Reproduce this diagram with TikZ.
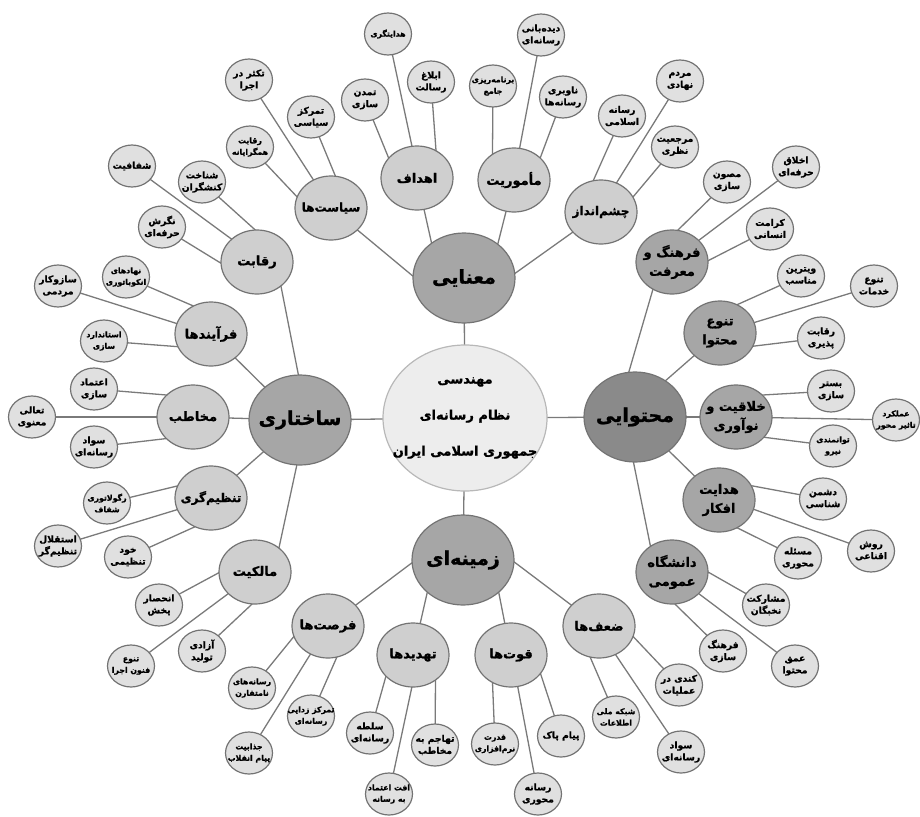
\documentclass[tikz,border=0pt]{standalone}
\usepackage{fontspec}
\usetikzlibrary{shapes.geometric,backgrounds}
\newfontfamily\arabicfont[Script=Arabic,BoldFeatures={FakeBold=1.2}]{DejaVu Sans}
\TeXXeTstate=1
\definecolor{bordc}{gray}{0.45}
\definecolor{linec}{gray}{0.48}
\definecolor{leafc}{gray}{0.88}
\definecolor{subc}{gray}{0.81}
\definecolor{subdc}{gray}{0.65}
\definecolor{mainc}{gray}{0.65}
\definecolor{maindc}{gray}{0.54}
\definecolor{cenc}{gray}{0.93}
\definecolor{cenb}{gray}{0.72}
\tikzset{
  lt/.style={font=\arabicfont\bfseries\fontsize{9.2}{12}\selectfont, align=center, inner sep=0pt},
  ltsm/.style={font=\arabicfont\bfseries\fontsize{7.8}{11.5}\selectfont, align=center, inner sep=0pt},
  stx/.style={font=\arabicfont\bfseries\fontsize{13}{19}\selectfont, align=center, inner sep=0pt},
  stxs/.style={font=\arabicfont\bfseries\fontsize{12}{19}\selectfont, align=center, inner sep=0pt},
  mtx/.style={font=\arabicfont\bfseries\fontsize{19}{22}\selectfont, align=center, inner sep=0pt},
  ctx/.style={font=\arabicfont\bfseries\fontsize{13}{36}\selectfont, align=center, inner sep=0pt},
  bub/.style={ellipse, draw=bordc, line width=1.2pt, inner sep=0pt, outer sep=0pt},
  leafn/.style={bub, fill=leafc, minimum width=47pt, minimum height=42pt, label={[lt]center:{#1}}},
  leafs/.style={bub, fill=leafc, minimum width=47pt, minimum height=42pt, label={[ltsm]center:{#1}}},
  subn/.style={bub, fill=subc, minimum width=72pt, minimum height=64pt, label={[stx]center:{#1}}},
  subs/.style={bub, fill=subc, minimum width=72pt, minimum height=64pt, label={[stxs]center:{#1}}},
  subd/.style={bub, fill=subdc, minimum width=72pt, minimum height=64pt, label={[stx]center:{#1}}},
  mainn/.style={bub, fill=mainc, minimum width=102pt, minimum height=90pt, label={[mtx]center:{#1}}},
  maind/.style={bub, fill=maindc, minimum width=102pt, minimum height=90pt, label={[mtx]center:{#1}}},
  cenn/.style={bub, fill=cenc, draw=cenb, minimum width=164pt, minimum height=146pt, label={[ctx]center:{#1}}},
  conn/.style={draw=linec, line width=1.3pt}
}
\begin{document}
\begin{tikzpicture}[x=1pt,y=-1pt]
\useasboundingbox (0,0) rectangle (920,816);
% centre and main
\node[cenn={\beginR مهندسی\endR\\\beginR نظام رسانه‌ای\endR\\\beginR جمهوری اسلامی ایران\endR}] (cen) at (465,418) {};
\node[mainn={\beginR معنایی\endR}] (mana) at (464,278) {};
\node[maind={\beginR محتوایی\endR}] (mohtava) at (635,417) {};
\node[mainn={\beginR زمینه‌ای\endR}] (zamine) at (463,560) {};
\node[mainn={\beginR ساختاری\endR}] (sakht) at (300,420) {};
% meaning
\node[subs={\beginR سیاست‌ها\endR}] (siasat) at (331,208) {};
\node[subn={\beginR اهداف\endR}] (ahdaf) at (417,178) {};
\node[subn={\beginR مأموریت\endR}] (mamuriat) at (514,180) {};
\node[subs={\beginR چشم‌انداز\endR}] (cheshm) at (601,212) {};
\node[leafs={\beginR رقابت\endR\\\beginR همگرایانه\endR}] (hamgara) at (250,147) {};
\node[leafn={\beginR تمرکز\endR\\\beginR سیاسی\endR}] (tamarkoz) at (311,117) {};
\node[leafn={\beginR تکثر در\endR\\\beginR اجرا\endR}] (takassor) at (249,80) {};
\node[leafn={\beginR تمدن\endR\\\beginR سازی\endR}] (tamadon) at (365,100) {};
\node[leafs={\beginR هدایتگری\endR}] (hedayatgari) at (388,34) {};
\node[leafn={\beginR ابلاغ\endR\\\beginR رسالت\endR}] (eblagh) at (431,82) {};
\node[leafs={\beginR برنامه‌ریزی\endR\\\beginR جامع\endR}] (barname) at (493,86) {};
\node[leafn={\beginR دیده‌بانی\endR\\\beginR رسانه‌ای\endR}] (didebani) at (541,35) {};
\node[leafn={\beginR ناوبری\endR\\\beginR رسانه‌ها\endR}] (navbari) at (563,97) {};
\node[leafn={\beginR رسانه\endR\\\beginR اسلامی\endR}] (eslami) at (622,116) {};
\node[leafn={\beginR مردم\endR\\\beginR نهادی\endR}] (mardom) at (680,81) {};
\node[leafn={\beginR مرجعیت\endR\\\beginR نظری\endR}] (marjaeiat) at (675,147) {};
% content
\node[subd={\beginR فرهنگ و\endR\\\beginR معرفت\endR}] (farhang) at (672,262) {};
\node[subd={\beginR تنوع\endR\\\beginR محتوا\endR}] (tanavo) at (720,333) {};
\node[subd={\beginR خلاقیت و\endR\\\beginR نوآوری\endR}] (khalaqiat) at (736,417) {};
\node[subd={\beginR هدایت\endR\\\beginR افکار\endR}] (hedayat) at (719,500) {};
\node[subd={\beginR دانشگاه\endR\\\beginR عمومی\endR}] (daneshgah) at (672,572) {};
\node[leafn={\beginR مصون\endR\\\beginR سازی\endR}] (masun) at (727,182) {};
\node[leafn={\beginR اخلاق\endR\\\beginR حرفه‌ای\endR}] (akhlagh) at (796,167) {};
\node[leafn={\beginR کرامت\endR\\\beginR انسانی\endR}] (keramat) at (770,229) {};
\node[leafn={\beginR ویترین\endR\\\beginR مناسب\endR}] (vitrin) at (801,276) {};
\node[leafn={\beginR تنوع\endR\\\beginR خدمات\endR}] (khadamat) at (874,286) {};
\node[leafn={\beginR رقابت\endR\\\beginR پذیری\endR}] (paziri) at (821,338) {};
\node[leafn={\beginR بستر\endR\\\beginR سازی\endR}] (bastar) at (831,391) {};
\node[leafs={\beginR عملکرد\endR\\\beginR تاثیر محور\endR}] (amalkard) at (896,420) {};
\node[leafs={\beginR توانمندی\endR\\\beginR نیرو\endR}] (tavanmandi) at (833,446) {};
\node[leafn={\beginR دشمن\endR\\\beginR شناسی\endR}] (doshman) at (823,499) {};
\node[leafn={\beginR روش\endR\\\beginR اقناعی\endR}] (ravesh) at (871,551) {};
\node[leafn={\beginR مسئله\endR\\\beginR محوری\endR}] (masale) at (798,558) {};
\node[leafn={\beginR مشارکت\endR\\\beginR نخبگان\endR}] (mosharekat) at (766,605) {};
\node[leafn={\beginR فرهنگ\endR\\\beginR سازی\endR}] (farhangsazi) at (723,651) {};
\node[leafn={\beginR عمق\endR\\\beginR محتوا\endR}] (omgh) at (795,666) {};
% context
\node[subn={\beginR فرصت‌ها\endR}] (forsat) at (328,626) {};
\node[subn={\beginR تهدیدها\endR}] (tahdid) at (413,655) {};
\node[subn={\beginR قوت‌ها\endR}] (ghovat) at (511,655) {};
\node[subn={\beginR ضعف‌ها\endR}] (zaf) at (599,626) {};
\node[leafs={\beginR رسانه‌های\endR\\\beginR نامتقارن\endR}] (namotaqaren) at (252,688) {};
\node[leafs={\beginR تمرکز زدایی\endR\\\beginR رسانه‌ای\endR}] (tamarkozzodayi) at (311,716) {};
\node[leafs={\beginR جذابیت\endR\\\beginR پیام انقلاب\endR}] (jazabiat) at (249,753) {};
\node[leafn={\beginR سلطه\endR\\\beginR رسانه‌ای\endR}] (solte) at (370,733) {};
\node[leafn={\beginR تهاجم به\endR\\\beginR مخاطب\endR}] (tahajom) at (435,745) {};
\node[leafs={\beginR افت اعتماد\endR\\\beginR به رسانه\endR}] (oft) at (389,794) {};
\node[leafs={\beginR قدرت\endR\\\beginR نرم‌افزاری\endR}] (ghodrat) at (495,744) {};
\node[leafn={\beginR پیام پاک\endR}] (payam) at (561,736) {};
\node[leafn={\beginR رسانه\endR\\\beginR محوری\endR}] (mehvari) at (538,794) {};
\node[leafs={\beginR شبکه ملی\endR\\\beginR اطلاعات\endR}] (shabake) at (616,717) {};
\node[leafn={\beginR کندی در\endR\\\beginR عملیات\endR}] (kondi) at (679,685) {};
\node[leafn={\beginR سواد\endR\\\beginR رسانه‌ای\endR}] (savadz) at (681,752) {};
% structure
\node[subn={\beginR رقابت\endR}] (reqabat) at (257,262) {};
\node[subn={\beginR فرآیندها\endR}] (farayand) at (211,334) {};
\node[subn={\beginR مخاطب\endR}] (mokhatab) at (193,417) {};
\node[subs={\beginR تنظیم‌گری\endR}] (tanzim) at (211,498) {};
\node[subn={\beginR مالکیت\endR}] (malekiat) at (255,572) {};
\node[leafn={\beginR شفافیت\endR}] (shafafiat) at (132,166) {};
\node[leafn={\beginR شناخت\endR\\\beginR کنشگران\endR}] (shenakht) at (202,182) {};
\node[leafn={\beginR نگرش\endR\\\beginR حرفه‌ای\endR}] (negaresh) at (162,227) {};
\node[leafs={\beginR نهادهای\endR\\\beginR انکوباتوری\endR}] (nahad) at (126,277) {};
\node[leafn={\beginR سازوکار\endR\\\beginR مردمی\endR}] (sazokar) at (58,286) {};
\node[leafs={\beginR استاندارد\endR\\\beginR سازی\endR}] (standard) at (104,341) {};
\node[leafn={\beginR اعتماد\endR\\\beginR سازی\endR}] (etemad) at (94,389) {};
\node[leafn={\beginR تعالی\endR\\\beginR معنوی\endR}] (taali) at (32,417) {};
\node[leafn={\beginR سواد\endR\\\beginR رسانه‌ای\endR}] (savadm) at (94,447) {};
\node[leafs={\beginR رگولاتوری\endR\\\beginR شفاف\endR}] (regulatory) at (107,503) {};
\node[leafn={\beginR استقلال\endR\\\beginR تنظیم‌گر\endR}] (esteghlal) at (58,546) {};
\node[leafn={\beginR خود\endR\\\beginR تنظیمی\endR}] (khod) at (128,557) {};
\node[leafn={\beginR انحصار\endR\\\beginR پخش\endR}] (enhesar) at (159,605) {};
\node[leafn={\beginR آزادی\endR\\\beginR تولید\endR}] (azadi) at (202,651) {};
\node[leafs={\beginR تنوع\endR\\\beginR فنون اجرا\endR}] (fonun) at (131,666) {};
% connectors
\begin{scope}[on background layer]
\draw[conn] (cen) -- (mana);
\draw[conn] (cen) -- (mohtava);
\draw[conn] (cen) -- (zamine);
\draw[conn] (cen) -- (sakht);
% meaning
\draw[conn] (siasat) -- (mana.178);
\draw[conn] (ahdaf) -- (mana.133);
\draw[conn] (mamuriat) -- (mana.45);
\draw[conn] (cheshm) -- (mana.5);
\draw[conn] (hamgara) -- (siasat.162);
\draw[conn] (tamarkoz) -- (siasat.82);
\draw[conn] (takassor) -- (siasat.122);
\draw[conn] (tamadon) -- (ahdaf.145);
\draw[conn] (hedayatgari) -- (ahdaf.99);
\draw[conn] (eblagh) -- (ahdaf.55);
\draw[conn] (barname) -- (mamuriat.130);
\draw[conn] (didebani) -- (mamuriat.80);
\draw[conn] (navbari) -- (mamuriat.40);
\draw[conn] (eslami) -- (cheshm.104);
\draw[conn] (mardom) -- (cheshm.62);
\draw[conn] (marjaeiat) -- (cheshm.25);
% content
\draw[conn] (farhang.235) -- (mohtava.98);
\draw[conn] (tanavo) -- (mohtava.50);
\draw[conn] (khalaqiat) -- (mohtava);
\draw[conn] (hedayat) -- (mohtava.-45);
\draw[conn] (daneshgah.130) -- (mohtava.-92);
\draw[conn] (masun) -- (farhang.80);
\draw[conn] (akhlagh) -- (farhang.39);
\draw[conn] (keramat) -- (farhang.2);
\draw[conn] (vitrin) -- (tanavo.59);
\draw[conn] (khadamat) -- (tanavo.17);
\draw[conn] (paziri) -- (tanavo.-22);
\draw[conn] (bastar) -- (khalaqiat.40);
\draw[conn] (amalkard) -- (khalaqiat);
\draw[conn] (tavanmandi) -- (khalaqiat.-36);
\draw[conn] (doshman) -- (hedayat.24);
\draw[conn] (ravesh) -- (hedayat.-15);
\draw[conn] (masale) -- (hedayat.-57);
\draw[conn] (mosharekat) -- (daneshgah.0);
\draw[conn] (farhangsazi) -- (daneshgah.-85);
\draw[conn] (omgh) -- (daneshgah.-39);
% context
\draw[conn] (forsat) -- (zamine.183);
\draw[conn] (tahdid) -- (zamine.222);
\draw[conn] (ghovat) -- (zamine.-42);
\draw[conn] (zaf) -- (zamine.-2);
\draw[conn] (namotaqaren) -- (forsat.197);
\draw[conn] (tamarkozzodayi) -- (forsat.-74);
\draw[conn] (jazabiat) -- (forsat.238);
\draw[conn] (solte) -- (tahdid.218);
\draw[conn] (oft) -- (tahdid.268);
\draw[conn] (tahajom) -- (tahdid.-48);
\draw[conn] (ghodrat) -- (ghovat.236);
\draw[conn] (mehvari) -- (ghovat.-78);
\draw[conn] (payam) -- (ghovat.-32);
\draw[conn] (shabake) -- (zaf.254);
\draw[conn] (savadz) -- (zaf.-60);
\draw[conn] (kondi) -- (zaf.-17);
% structure
\draw[conn] (reqabat.-45) -- (sakht.92);
\draw[conn] (farayand) -- (sakht.137);
\draw[conn] (mokhatab) -- (sakht);
\draw[conn] (tanzim) -- (sakht.221);
\draw[conn] (malekiat.45) -- (sakht.-94);
\draw[conn] (shafafiat) -- (reqabat.138);
\draw[conn] (shenakht) -- (reqabat.93);
\draw[conn] (negaresh) -- (reqabat.182);
\draw[conn] (nahad) -- (farayand.122);
\draw[conn] (sazokar) -- (farayand.163);
\draw[conn] (standard) -- (farayand.201);
\draw[conn] (etemad) -- (mokhatab.140);
\draw[conn] (taali) -- (mokhatab);
\draw[conn] (savadm) -- (mokhatab.219);
\draw[conn] (regulatory) -- (tanzim.160);
\draw[conn] (esteghlal) -- (tanzim.199);
\draw[conn] (khod) -- (tanzim.241);
\draw[conn] (enhesar) -- (malekiat.181);
\draw[conn] (azadi) -- (malekiat.265);
\draw[conn] (fonun) -- (malekiat.219);
\end{scope}
\end{tikzpicture}
\end{document}
